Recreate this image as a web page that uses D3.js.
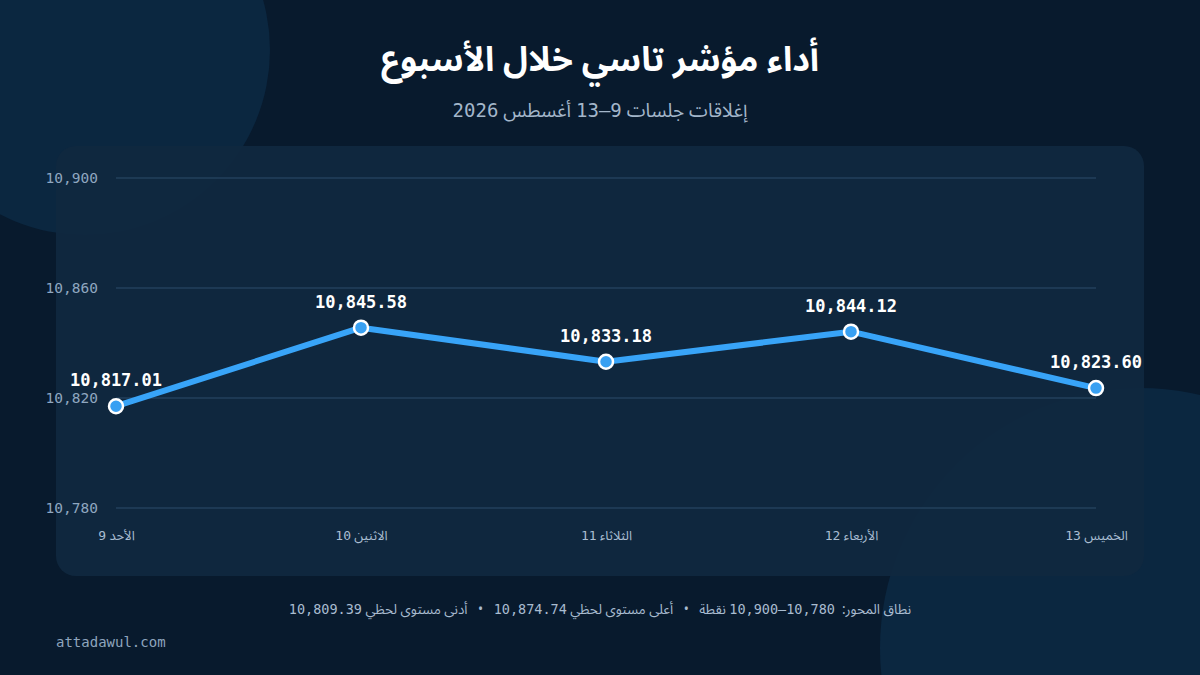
<!DOCTYPE html>
<html><head><meta charset="utf-8">
<script src="https://cdn.jsdelivr.net/npm/d3@7"></script>
<style>
html,body{margin:0;padding:0;background:#081a2d;}
svg{display:block;}
</style></head>
<body>
<svg id="c" width="1200" height="675"></svg>
<script>
const categories = ["الأحد 9","الاثنين 10","الثلاثاء 11","الأربعاء 12","الخميس 13"];
const values = [10817.01, 10845.58, 10833.18, 10844.12, 10823.60];
const yTicks = [10780, 10820, 10860, 10900];
const titleText = "أداء مؤشر تاسي خلال الأسبوع";
const subtitleText = "إغلاقات جلسات 9–13 أغسطس 2026";
const footerText = "نطاق المحور:  10,780–10,900 نقطة   •   أعلى مستوى لحظي 10,874.74   •   أدنى مستوى لحظي 10,809.39";
const sourceText = "attadawul.com";

const svg = d3.select("#c");
const W = 1200, H = 675;
const mono = "'DejaVu Sans Mono', monospace";
const arab = "'Noto Sans Arabic', 'Noto Sans', sans-serif";

// split text into Arabic (with adjacent spaces/bullets) / other runs, each a tspan with its own font
function mixed(sel, str) {
  const re = /[ :•]*[\u0600-\u06FF][\u0600-\u06FF :•]*/g;
  let last = 0, m;
  const parts = [];
  while ((m = re.exec(str)) !== null) {
    if (m.index > last) parts.push([str.slice(last, m.index), false]);
    parts.push([m[0], true]);
    last = m.index + m[0].length;
  }
  if (last < str.length) parts.push([str.slice(last), false]);
  sel.text(null);
  parts.forEach(([t, ar]) => sel.append("tspan").attr("font-family", ar ? arab : mono).text(t));
  return sel;
}

svg.append("rect").attr("width",W).attr("height",H).attr("fill","#081a2d");
svg.append("circle").attr("cx",85).attr("cy",50).attr("r",185).attr("fill","#0b2740");
svg.append("circle").attr("cx",1140).attr("cy",648).attr("r",260).attr("fill","#0b2740");

svg.append("rect").attr("x",56).attr("y",146).attr("width",1088).attr("height",430)
  .attr("rx",20).attr("fill","#10283f").attr("fill-opacity",0.95);

const x = d3.scalePoint().domain(categories).range([116,1096]);
const y = d3.scaleLinear().domain([10780,10900]).range([508,178]);

// grid
svg.append("g").selectAll("line").data(yTicks).join("line")
  .attr("x1",116).attr("x2",1096).attr("y1",d=>y(d)).attr("y2",d=>y(d))
  .attr("stroke","#23405c").attr("stroke-width",1.5);

// y axis
const yAxis = d3.axisLeft(y).tickValues(yTicks).tickSize(0).tickPadding(0).tickFormat(d3.format(","));
const ya = svg.append("g").attr("transform","translate(98,0)").call(yAxis);
ya.select(".domain").remove();
ya.selectAll("text").attr("fill","#8fa7c0").attr("font-family",mono).attr("font-size",14.5);

// x axis
const xAxis = d3.axisBottom(x).tickSize(0).tickPadding(0);
const xa = svg.append("g").attr("transform","translate(0,531)").call(xAxis);
xa.select(".domain").remove();
xa.selectAll("text").attr("fill","#a9bdd2").attr("font-size",13)
  .attr("direction","rtl").attr("text-anchor","middle").attr("dy","0.71em")
  .each(function(d){ mixed(d3.select(this), d); });

// line
const line = d3.line().x((d,i)=>x(categories[i])).y(d=>y(d));
svg.append("path").datum(values).attr("d",line).attr("fill","none")
  .attr("stroke","#38a4f8").attr("stroke-width",6).attr("stroke-linejoin","round").attr("stroke-linecap","round");

svg.append("g").selectAll("circle").data(values).join("circle")
  .attr("cx",(d,i)=>x(categories[i])).attr("cy",d=>y(d)).attr("r",7)
  .attr("fill","#38a0f2").attr("stroke","#ffffff").attr("stroke-width",2.5);

svg.append("g").selectAll("text").data(values).join("text")
  .attr("x",(d,i)=>x(categories[i])).attr("y",d=>y(d)-20)
  .attr("text-anchor","middle").attr("fill","#ffffff").attr("font-family",mono)
  .attr("font-weight","bold").attr("font-size",17)
  .text(d=>d3.format(",.2f")(d));

// titles
svg.append("text").attr("x",600).attr("y",71).attr("text-anchor","middle").attr("direction","rtl")
  .attr("fill","#ffffff").attr("font-family",arab).attr("font-weight","bold").attr("font-size",34)
  .text(titleText);
mixed(svg.append("text").attr("x",600).attr("y",117).attr("text-anchor","middle").attr("direction","rtl")
  .attr("fill","#a3b6ca").attr("font-size",19), subtitleText);

mixed(svg.append("text").attr("x",600).attr("y",614).attr("text-anchor","middle").attr("direction","rtl")
  .attr("fill","#a9bcd0").attr("font-size",13.5).attr("xml:space","preserve"), footerText);

svg.append("text").attr("x",56).attr("y",647).attr("fill","#8ea5bd").attr("font-family",mono)
  .attr("font-size",14).text(sourceText);
</script>
</body></html>
